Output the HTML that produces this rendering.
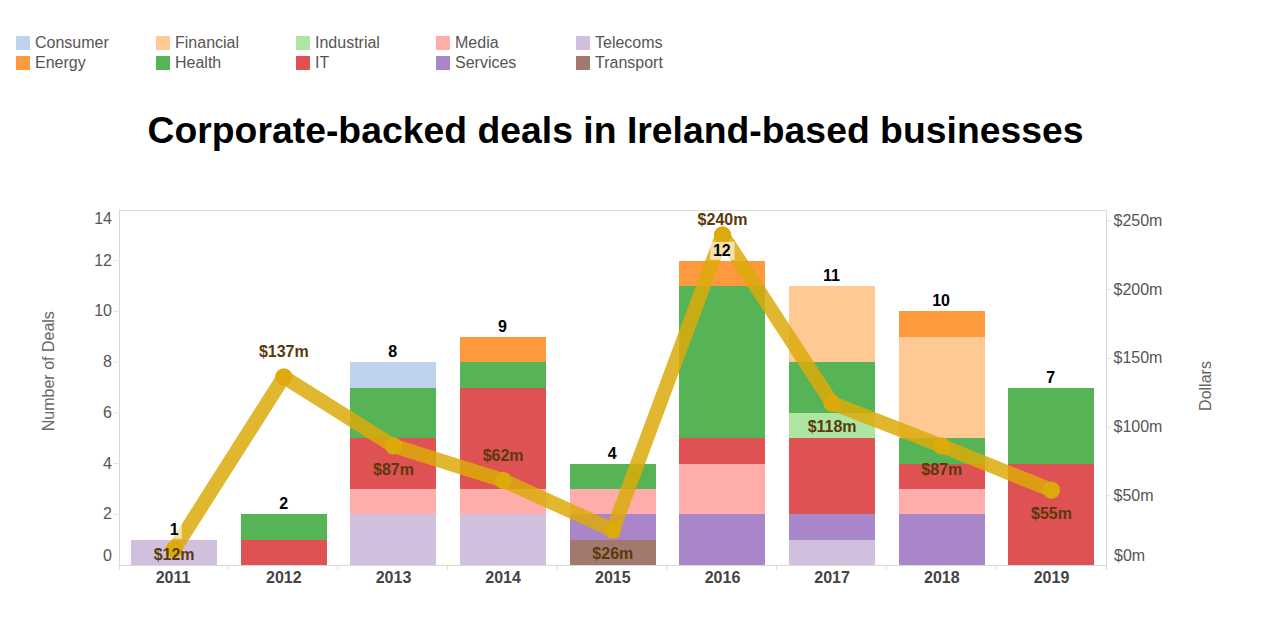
<!DOCTYPE html><html><head><meta charset="utf-8"><title>Corporate-backed deals in Ireland-based businesses</title><style>
html,body{margin:0;padding:0;background:#fff;width:1265px;height:617px;overflow:hidden}
svg{display:block;font-family:"Liberation Sans",Arial,sans-serif}
.lg{font-size:16px;fill:#555}.ax{font-size:16px;fill:#555}.at{font-size:16px;fill:#666}
.yr{font-size:16px;font-weight:bold;fill:#444}.ct{font-size:16px;font-weight:bold;fill:#000}
.ml{font-size:16px;font-weight:bold;fill:#5a3a0a}
</style></head><body>
<svg width="1265" height="617" viewBox="0 0 1265 617">
<rect x="16" y="36" width="14" height="14" fill="#bed2ed"/>
<text class="lg" x="35" y="48.0">Consumer</text>
<rect x="16" y="56" width="14" height="14" fill="#ff993e"/>
<text class="lg" x="35" y="68.0">Energy</text>
<rect x="156" y="36" width="14" height="14" fill="#ffc993"/>
<text class="lg" x="175" y="48.0">Financial</text>
<rect x="156" y="56" width="14" height="14" fill="#56b356"/>
<text class="lg" x="175" y="68.0">Health</text>
<rect x="296" y="36" width="14" height="14" fill="#ade5a1"/>
<text class="lg" x="315" y="48.0">Industrial</text>
<rect x="296" y="56" width="14" height="14" fill="#de5253"/>
<text class="lg" x="315" y="68.0">IT</text>
<rect x="436" y="36" width="14" height="14" fill="#ffadab"/>
<text class="lg" x="455" y="48.0">Media</text>
<rect x="436" y="56" width="14" height="14" fill="#a985ca"/>
<text class="lg" x="455" y="68.0">Services</text>
<rect x="576" y="36" width="14" height="14" fill="#d1c0dd"/>
<text class="lg" x="595" y="48.0">Telecoms</text>
<rect x="576" y="56" width="14" height="14" fill="#a3786f"/>
<text class="lg" x="595" y="68.0">Transport</text>
<text x="147.5" y="142.5" style="font-size:37.3px;font-weight:bold;fill:#000" textLength="936" lengthAdjust="spacing">Corporate-backed deals in Ireland-based businesses</text>
<path d="M119.5 565.5 H119.5 V210.5" fill="none" stroke="#d9d9d9" stroke-width="1"/>
<path d="M119.5 210.5 H1106.5 V565.5 H119.5" fill="none" stroke="#d9d9d9" stroke-width="1"/>
<line x1="117" x2="119" y1="565.5" y2="565.5" stroke="#e2e2e2"/>
<line x1="119.5" x2="119.5" y1="209" y2="211" stroke="#d9d9d9"/>
<text class="ax" x="112.0" y="561" text-anchor="end">0</text>
<line x1="114" x2="119" y1="514.29" y2="514.29" stroke="#e2e2e2"/>
<text class="ax" x="112.0" y="519" text-anchor="end">2</text>
<line x1="114" x2="119" y1="463.57" y2="463.57" stroke="#e2e2e2"/>
<text class="ax" x="112.0" y="469" text-anchor="end">4</text>
<line x1="114" x2="119" y1="412.86" y2="412.86" stroke="#e2e2e2"/>
<text class="ax" x="112.0" y="418" text-anchor="end">6</text>
<line x1="114" x2="119" y1="362.14" y2="362.14" stroke="#e2e2e2"/>
<text class="ax" x="112.0" y="367" text-anchor="end">8</text>
<line x1="114" x2="119" y1="311.43" y2="311.43" stroke="#e2e2e2"/>
<text class="ax" x="112.0" y="316" text-anchor="end">10</text>
<line x1="114" x2="119" y1="260.71" y2="260.71" stroke="#e2e2e2"/>
<text class="ax" x="112.0" y="266" text-anchor="end">12</text>
<text class="ax" x="112.0" y="224" text-anchor="end">14</text>
<text class="ax" x="1114.0" y="561">$0m</text>
<line x1="1107" x2="1111" y1="495.84" y2="495.84" stroke="#e2e2e2"/>
<text class="ax" x="1113.5" y="501">$50m</text>
<line x1="1107" x2="1111" y1="427.08" y2="427.08" stroke="#e2e2e2"/>
<text class="ax" x="1113.5" y="432">$100m</text>
<line x1="1107" x2="1111" y1="358.32" y2="358.32" stroke="#e2e2e2"/>
<text class="ax" x="1113.5" y="363">$150m</text>
<line x1="1107" x2="1111" y1="289.56" y2="289.56" stroke="#e2e2e2"/>
<text class="ax" x="1113.5" y="295">$200m</text>
<line x1="1107" x2="1111" y1="220.80" y2="220.80" stroke="#e2e2e2"/>
<text class="ax" x="1113.5" y="226">$250m</text>
<line x1="119.50" x2="119.50" y1="566" y2="570" stroke="#d9d9d9"/>
<line x1="228.00" x2="228.00" y1="566" y2="570" stroke="#d9d9d9"/>
<line x1="337.70" x2="337.70" y1="566" y2="570" stroke="#d9d9d9"/>
<line x1="447.40" x2="447.40" y1="566" y2="570" stroke="#d9d9d9"/>
<line x1="557.10" x2="557.10" y1="566" y2="570" stroke="#d9d9d9"/>
<line x1="666.80" x2="666.80" y1="566" y2="570" stroke="#d9d9d9"/>
<line x1="776.50" x2="776.50" y1="566" y2="570" stroke="#d9d9d9"/>
<line x1="886.20" x2="886.20" y1="566" y2="570" stroke="#d9d9d9"/>
<line x1="995.90" x2="995.90" y1="566" y2="570" stroke="#d9d9d9"/>
<line x1="1106.50" x2="1106.50" y1="566" y2="570" stroke="#d9d9d9"/>
<text class="at" transform="translate(53.6,371.2) rotate(-90)" text-anchor="middle">Number of Deals</text>
<text class="at" transform="translate(1211,386) rotate(-90)" text-anchor="middle">Dollars</text>
<rect x="131" y="540" width="86" height="25" fill="#d1c0dd"/>
<rect x="241" y="540" width="86" height="25" fill="#de5253"/>
<rect x="241" y="514" width="86" height="26" fill="#56b356"/>
<rect x="350" y="514" width="86" height="51" fill="#d1c0dd"/>
<rect x="350" y="489" width="86" height="25" fill="#ffadab"/>
<rect x="350" y="438" width="86" height="51" fill="#de5253"/>
<rect x="350" y="388" width="86" height="50" fill="#56b356"/>
<rect x="350" y="362" width="86" height="26" fill="#bed2ed"/>
<rect x="460" y="514" width="86" height="51" fill="#d1c0dd"/>
<rect x="460" y="489" width="86" height="25" fill="#ffadab"/>
<rect x="460" y="388" width="86" height="101" fill="#de5253"/>
<rect x="460" y="362" width="86" height="26" fill="#56b356"/>
<rect x="460" y="337" width="86" height="25" fill="#ff993e"/>
<rect x="570" y="540" width="86" height="25" fill="#a3786f"/>
<rect x="570" y="514" width="86" height="26" fill="#a985ca"/>
<rect x="570" y="489" width="86" height="25" fill="#ffadab"/>
<rect x="570" y="464" width="86" height="25" fill="#56b356"/>
<rect x="679" y="514" width="86" height="51" fill="#a985ca"/>
<rect x="679" y="464" width="86" height="50" fill="#ffadab"/>
<rect x="679" y="438" width="86" height="26" fill="#de5253"/>
<rect x="679" y="286" width="86" height="152" fill="#56b356"/>
<rect x="679" y="261" width="86" height="25" fill="#ff993e"/>
<rect x="789" y="540" width="86" height="25" fill="#d1c0dd"/>
<rect x="789" y="514" width="86" height="26" fill="#a985ca"/>
<rect x="789" y="438" width="86" height="76" fill="#de5253"/>
<rect x="789" y="413" width="86" height="25" fill="#ade5a1"/>
<rect x="789" y="362" width="86" height="51" fill="#56b356"/>
<rect x="789" y="286" width="86" height="76" fill="#ffc993"/>
<rect x="899" y="514" width="86" height="51" fill="#a985ca"/>
<rect x="899" y="489" width="86" height="25" fill="#ffadab"/>
<rect x="899" y="464" width="86" height="25" fill="#de5253"/>
<rect x="899" y="438" width="86" height="26" fill="#56b356"/>
<rect x="899" y="337" width="86" height="101" fill="#ffc993"/>
<rect x="899" y="311" width="86" height="26" fill="#ff993e"/>
<rect x="1008" y="464" width="86" height="101" fill="#de5253"/>
<rect x="1008" y="388" width="86" height="76" fill="#56b356"/>
<text class="yr" x="173.0" y="583.3" text-anchor="middle">2011</text>
<text class="yr" x="283.8" y="583.3" text-anchor="middle">2012</text>
<text class="yr" x="393.5" y="583.3" text-anchor="middle">2013</text>
<text class="yr" x="503.1" y="583.3" text-anchor="middle">2014</text>
<text class="yr" x="612.8" y="583.3" text-anchor="middle">2015</text>
<text class="yr" x="722.5" y="583.3" text-anchor="middle">2016</text>
<text class="yr" x="832.1" y="583.3" text-anchor="middle">2017</text>
<text class="yr" x="941.8" y="583.3" text-anchor="middle">2018</text>
<text class="yr" x="1051.5" y="583.3" text-anchor="middle">2019</text>
<polyline points="174.13,549.44 283.80,376.94 393.47,445.94 503.13,480.44 612.80,530.12 722.47,234.80 832.13,403.16 941.80,445.94 1051.47,490.10" fill="none" stroke="#dcaa0a" stroke-width="14.3" stroke-linejoin="round" stroke-opacity="0.85"/>
<circle cx="174.13" cy="549.44" r="8.6" fill="#dcaa0a"/>
<circle cx="283.80" cy="376.94" r="8.6" fill="#dcaa0a"/>
<circle cx="393.47" cy="445.94" r="8.6" fill="#dcaa0a"/>
<circle cx="503.13" cy="480.44" r="8.6" fill="#dcaa0a"/>
<circle cx="612.80" cy="530.12" r="8.6" fill="#dcaa0a"/>
<circle cx="722.47" cy="234.80" r="8.6" fill="#dcaa0a"/>
<circle cx="832.13" cy="403.16" r="8.6" fill="#dcaa0a"/>
<circle cx="941.80" cy="445.94" r="8.6" fill="#dcaa0a"/>
<circle cx="1051.47" cy="490.10" r="8.6" fill="#dcaa0a"/>
<rect x="166.28" y="520.74" width="15.50" height="18" fill="#fff" fill-opacity="0.6"/>
<text class="ct" x="174.1" y="534.6" text-anchor="middle">1</text>
<rect x="275.95" y="495.39" width="15.50" height="18" fill="#fff" fill-opacity="0.6"/>
<text class="ct" x="283.8" y="509.3" text-anchor="middle">2</text>
<rect x="385.62" y="343.24" width="15.50" height="18" fill="#fff" fill-opacity="0.6"/>
<text class="ct" x="392.8" y="357.1" text-anchor="middle">8</text>
<rect x="495.28" y="317.89" width="15.50" height="18" fill="#fff" fill-opacity="0.6"/>
<text class="ct" x="502.4" y="331.8" text-anchor="middle">9</text>
<rect x="604.95" y="444.67" width="15.50" height="18" fill="#fff" fill-opacity="0.6"/>
<text class="ct" x="612.1" y="458.6" text-anchor="middle">4</text>
<rect x="710.17" y="241.81" width="24.40" height="18" fill="#fff" fill-opacity="0.6"/>
<text class="ct" x="721.8" y="255.7" text-anchor="middle">12</text>
<rect x="819.83" y="267.17" width="24.40" height="18" fill="#fff" fill-opacity="0.6"/>
<text class="ct" x="831.4" y="281.1" text-anchor="middle">11</text>
<rect x="929.50" y="292.53" width="24.40" height="18" fill="#fff" fill-opacity="0.6"/>
<text class="ct" x="941.1" y="306.4" text-anchor="middle">10</text>
<rect x="1043.62" y="368.60" width="15.50" height="18" fill="#fff" fill-opacity="0.6"/>
<text class="ct" x="1050.8" y="382.5" text-anchor="middle">7</text>
<text class="ml" x="174.1" y="559.6" text-anchor="middle">$12m</text>
<text class="ml" x="283.8" y="357.2" text-anchor="middle">$137m</text>
<text class="ml" x="393.5" y="474.5" text-anchor="middle">$87m</text>
<text class="ml" x="503.1" y="460.7" text-anchor="middle">$62m</text>
<text class="ml" x="612.8" y="558.5" text-anchor="middle">$26m</text>
<text class="ml" x="722.5" y="225.2" text-anchor="middle">$240m</text>
<text class="ml" x="832.1" y="431.8" text-anchor="middle">$118m</text>
<text class="ml" x="941.8" y="474.5" text-anchor="middle">$87m</text>
<text class="ml" x="1051.5" y="518.7" text-anchor="middle">$55m</text>
</svg></body></html>
